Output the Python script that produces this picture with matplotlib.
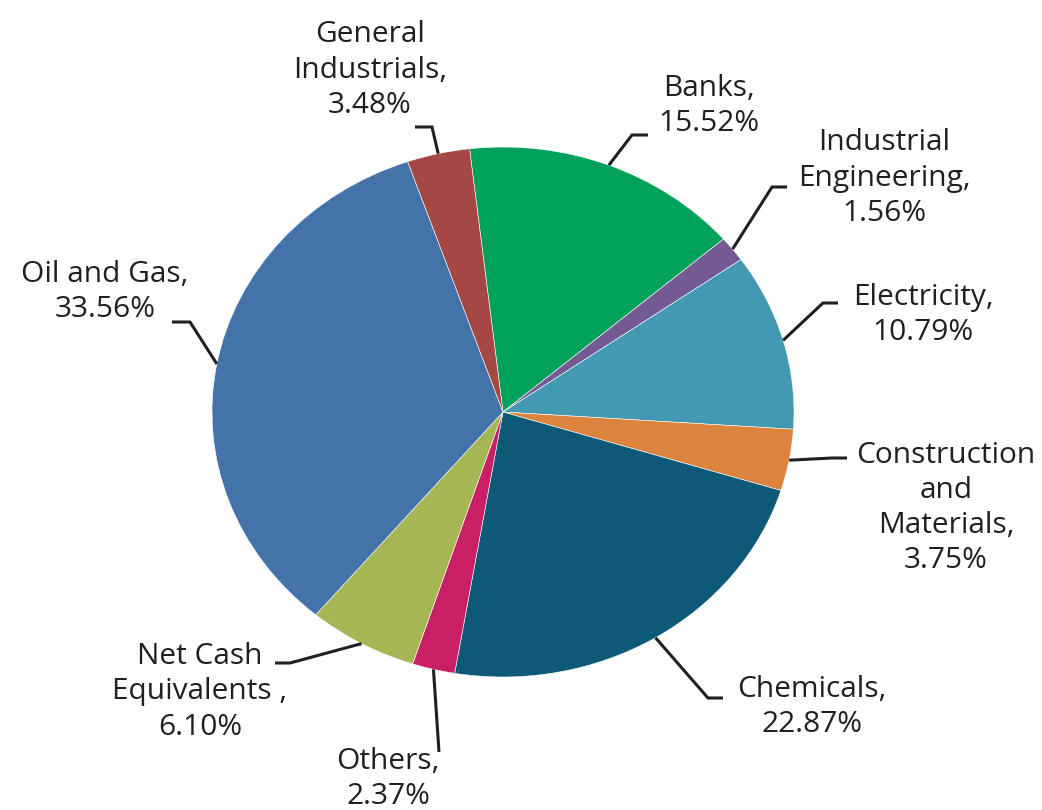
import numpy as np
import matplotlib
matplotlib.use('Agg')
import matplotlib.pyplot as plt

# sectors, clockwise from the top
sectors = ['Banks', 'Industrial\nEngineering', 'Electricity', 'Construction\nand\nMaterials',
           'Chemicals', 'Others', 'Net Cash\nEquivalents ', 'Oil and Gas', 'General\nIndustrials']
shares = [15.52, 1.56, 10.79, 3.75, 22.87, 2.37, 6.10, 33.56, 3.48]
colors = ['#00A25B', '#745A93', '#4299B1', '#DC843E', '#0C5A78',
          '#C81F65', '#A6B654', '#4373A9', '#A54845']

START = 96.6

# pie is drawn stretched (wider than tall) in the reference
CX, CY, RX, RY = 503, 412, 291, 265
W, H = 1042, 810


def px(x, y):
    return (x - CX) / RX, (CY - y) / RY


# label layout in pixels: text centre, then elbow and end of the leader line
layout = [
    ((709, 106), (632, 135), (648, 135)),
    ((884, 178), (772, 187), (787, 187)),
    ((923, 315), (823, 303), (838, 303)),
    ((946, 508), (832, 458), (847, 458)),
    ((812, 707), (708, 698), (723, 698)),
    ((388, 779), (439, 752), (439, 752)),
    ((200, 692), (290, 663), (275, 663)),
    ((105, 292), (190, 322), (172, 322)),
    ((370, 70), (432, 127), (415, 127)),
]

fig = plt.figure(figsize=(W / 100, H / 100), dpi=100)
ax = fig.add_axes([0, 0, 1, 1])
ax.pie(shares, colors=colors, startangle=START, counterclock=False,
       wedgeprops=dict(linewidth=0.4, edgecolor='white'))
ax.set_aspect('auto')
ax.set_xlim(-CX / RX, (W - CX) / RX)
ax.set_ylim((CY - H) / RY, CY / RY)
ax.axis('off')

# mid angles of each wedge
ends = START - np.cumsum(shares) * 3.6
mids = ends + np.array(shares) * 1.8

for name, val, mid, (tpos, elbow, end) in zip(sectors, shares, mids, layout):
    a = np.deg2rad(mid)
    ex, ey = np.cos(a), np.sin(a)
    bx, by = px(*elbow)
    qx, qy = px(*end)
    ax.plot([ex, bx, qx], [ey, by, qy], color='#231F20', lw=2.2,
            solid_capstyle='butt', solid_joinstyle='miter')
    tx, ty = px(*tpos)
    ax.text(tx, ty, f'{name},\n{val:.2f}%', ha='center', va='center',
            fontsize=21.5, family='Open Sans', color='#231F20', linespacing=1.28)

fig.savefig('out.png', dpi=100, facecolor='white')
